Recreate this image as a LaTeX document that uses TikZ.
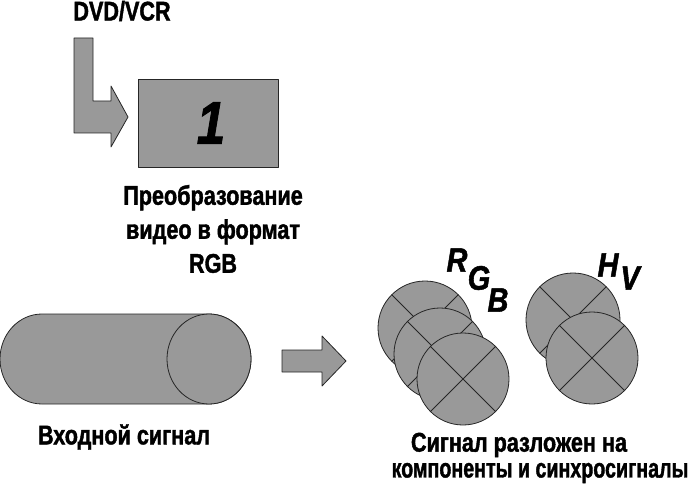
\documentclass[tikz,border=0pt]{standalone}
\usepackage{fontspec}
\newfontfamily\capfont{Liberation Sans}[FakeStretch=0.80, BoldFeatures={FakeBold=1.5}]
\newfontfamily\markfont{Liberation Sans}[FakeStretch=0.85, BoldItalicFeatures={FakeBold=1.5}]
\definecolor{partgray}{RGB}{153,153,153}
\tikzset{
  part/.style={fill=partgray, draw=black!85, line width=0.8pt, line join=round},
  caption/.style={font=\capfont\bfseries\fontsize{27}{34}\selectfont, align=center, inner sep=0pt},
  letter/.style={font=\markfont\bfseries\itshape\fontsize{34}{34}\selectfont, inner sep=0pt}
}
\begin{document}
\begin{tikzpicture}[x=1pt,y=1pt]
  \useasboundingbox (0,0) rectangle (690,496);

  % source and conversion block
  \node[caption] (src) at (122,485) {DVD/VCR};
  \draw[part] (74,458) -- (93,458) -- (93,395) -- (111,395) -- (111,410) -- (128,379)
     -- (111,349) -- (111,363) -- (74,363) -- cycle;
  \draw[part] (138,417) rectangle (278,329);
  \node[font=\markfont\bfseries\itshape\fontsize{60}{60}\selectfont, inner sep=0pt] (one) at (211,373) {1};
  \node[caption] (conv) at (213,267) {Преобразование\\видео в формат\\RGB};

  % input signal
  \draw[part] (42,182) -- (209,182) arc (90:-90:42 and 45) -- (42,92) arc (270:90:42 and 45) -- cycle;
  \draw[part] (209,137) ellipse (42 and 45);
  \node[caption] (inp) at (124,59) {Входной сигнал};

  \draw[part] (282,146) -- (322,146) -- (322,160) -- (346,135) -- (322,110) -- (322,124) -- (282,124) -- cycle;

  % components
  \foreach \cx/\cy/\r in {425/168/47, 440/142/46, 463/117/46, 573/176/47, 592/138/46}{
    \draw[part] (\cx,\cy) circle (\r);
    \draw[black!85, line width=0.8pt] (\cx,\cy) +(45:\r) -- +(225:\r);
    \draw[black!85, line width=0.8pt] (\cx,\cy) +(135:\r) -- +(315:\r);
  }
  \node[letter] (r) at (457,236) {R};
  \node[letter] (g) at (479,218) {G};
  \node[letter] (b) at (498,196) {B};
  \node[letter] (h) at (608,231) {H};
  \node[letter] (v) at (630,218) {V};

  \node[caption] (out1) at (519,51) {Сигнал разложен на};
  \node[caption] (out2) at (540,23) {\scalebox{0.91}[1]{компоненты и синхросигналы}};
\end{tikzpicture}
\end{document}
